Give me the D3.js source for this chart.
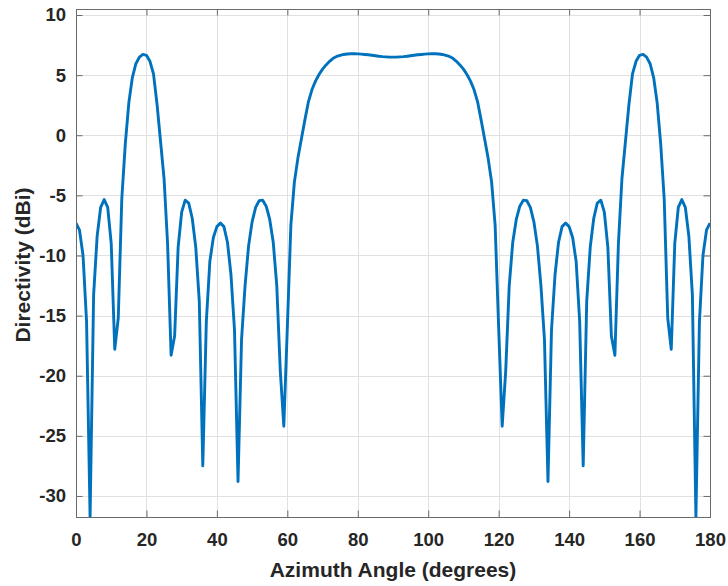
<!DOCTYPE html>
<html>
<head>
<meta charset="utf-8">
<script src="https://cdn.jsdelivr.net/npm/d3@7"></script>
<style>
  body { margin: 0; background: #ffffff; }
  text { font-family: "Liberation Sans", Arial, Helvetica, sans-serif; }
</style>
</head>
<body>
<svg id="chart" width="728" height="586"></svg>
<script>
// Azimuth sampling grid (degrees, 1-degree steps)
const azimuth = d3.range(0, 181, 1);

// Directivity in dBi at each azimuth angle
const directivity = [
  -7.3, -7.9, -10.0, -15.5, -31.75, -13.3, -8.4, -6.0, -5.35, -6.0,
  -9.0, -17.8, -15.2, -5.3, -0.7, 2.7, 4.8, 5.95, 6.5, 6.72,
  6.65, 6.15, 5.1, 2.6, -0.5, -3.6, -9.0, -18.3, -16.7, -9.3,
  -6.4, -5.4, -5.65, -6.9, -9.3, -13.8, -27.5, -15.5, -10.5, -8.5,
  -7.6, -7.3, -7.6, -8.9, -11.6, -16.2, -28.8, -17.0, -12.5, -9.2,
  -7.2, -6.0, -5.45, -5.4, -5.9, -7.0, -8.9, -12.5, -19.6, -24.2,
  -16.0, -7.5, -3.9, -1.9, -0.3, 1.3, 2.8, 3.8, 4.5, 5.05,
  5.5, 5.85, 6.15, 6.4, 6.55, 6.65, 6.72, 6.76, 6.78, 6.78,
  6.77, 6.75, 6.72, 6.69, 6.65, 6.61, 6.57, 6.54, 6.52, 6.5,
  6.5, 6.5, 6.52, 6.54, 6.57, 6.61, 6.65, 6.69, 6.72, 6.75,
  6.77, 6.78, 6.78, 6.76, 6.72, 6.65, 6.55, 6.4, 6.15, 5.85,
  5.5, 5.05, 4.5, 3.8, 2.8, 1.3, -0.3, -1.9, -3.9, -7.5,
  -16.0, -24.2, -19.6, -12.5, -8.9, -7.0, -5.9, -5.4, -5.45, -6.0,
  -7.2, -9.2, -12.5, -17.0, -28.8, -16.2, -11.6, -8.9, -7.6, -7.3,
  -7.6, -8.5, -10.5, -15.5, -27.5, -13.8, -9.3, -6.9, -5.65, -5.4,
  -6.4, -9.3, -16.7, -18.3, -9.0, -3.6, -0.5, 2.6, 5.1, 6.15,
  6.65, 6.72, 6.5, 5.95, 4.8, 2.7, -0.7, -5.3, -15.2, -17.8,
  -9.0, -6.0, -5.35, -6.0, -8.4, -13.3, -31.75, -15.5, -10.0, -7.9,
  -7.3
];

const xTicks = [0, 20, 40, 60, 80, 100, 120, 140, 160, 180];
const yTicks = [-30, -25, -20, -15, -10, -5, 0, 5, 10];
const xTitle = "Azimuth Angle (degrees)";
const yTitle = "Directivity (dBi)";

const svg = d3.select("#chart");
const plot = { left: 76, right: 710, top: 9, bottom: 517 };

const x = d3.scaleLinear().domain([0, 180]).range([plot.left, plot.right]);
const y = d3.scaleLinear().domain([-31.75, 10.5]).range([plot.bottom, plot.top]);

const series = azimuth.map((a, i) => ({ a, d: directivity[i] }));

// grid
const grid = svg.append("g").attr("stroke", "#e1e1e1").attr("stroke-width", 1);
grid.selectAll("line.gx").data(xTicks).join("line")
  .attr("x1", d => Math.round(x(d)) + 0.5).attr("x2", d => Math.round(x(d)) + 0.5)
  .attr("y1", plot.top).attr("y2", plot.bottom);
grid.selectAll("line.gy").data(yTicks).join("line")
  .attr("y1", d => Math.round(y(d)) + 0.5).attr("y2", d => Math.round(y(d)) + 0.5)
  .attr("x1", plot.left).attr("x2", plot.right);

// clip to the axes box
svg.append("clipPath").attr("id", "plotclip").append("rect")
  .attr("x", plot.left).attr("y", plot.top)
  .attr("width", plot.right - plot.left).attr("height", plot.bottom - plot.top);

// pattern curve
const line = d3.line().x(p => x(p.a)).y(p => y(p.d));
svg.append("path")
  .datum(series)
  .attr("clip-path", "url(#plotclip)")
  .attr("fill", "none")
  .attr("stroke", "#0072BD")
  .attr("stroke-width", 2.9)
  .attr("stroke-linejoin", "round")
  .attr("d", line);

// axes with inward ticks
const tickLen = 6.5;
const axisColor = "#6a6a6a";
const labelColor = "#262626";
const plainNumber = d => String(d);

function styleAxis(g, showLabels) {
  g.select(".domain").remove();
  g.selectAll(".tick line").attr("stroke", axisColor).attr("stroke-width", 1);
  g.selectAll(".tick text")
    .attr("fill", labelColor)
    .style("font-size", "18.5px")
    .style("font-weight", "bold")
    .style("display", showLabels ? null : "none");
}

svg.append("g")
  .attr("transform", `translate(0,${plot.bottom})`)
  .call(d3.axisBottom(x).tickValues(xTicks).tickFormat(plainNumber)
    .tickSize(-tickLen).tickPadding(16))
  .call(g => styleAxis(g, true));

svg.append("g")
  .attr("transform", `translate(0,${plot.top})`)
  .call(d3.axisTop(x).tickValues(xTicks).tickSize(-tickLen))
  .call(g => styleAxis(g, false));

svg.append("g")
  .attr("transform", `translate(${plot.left},0)`)
  .call(d3.axisLeft(y).tickValues(yTicks).tickFormat(plainNumber)
    .tickSize(-tickLen).tickPadding(10))
  .call(g => styleAxis(g, true));

svg.append("g")
  .attr("transform", `translate(${plot.right},0)`)
  .call(d3.axisRight(y).tickValues(yTicks).tickSize(-tickLen))
  .call(g => styleAxis(g, false));

// axes box
svg.append("rect")
  .attr("x", plot.left + 0.5).attr("y", plot.top + 0.5)
  .attr("width", plot.right - plot.left).attr("height", plot.bottom - plot.top)
  .attr("fill", "none").attr("stroke", axisColor).attr("stroke-width", 1);

// axis titles
svg.append("text")
  .attr("x", (plot.left + plot.right) / 2)
  .attr("y", 577)
  .attr("text-anchor", "middle")
  .attr("fill", labelColor)
  .style("font-size", "21px").style("font-weight", "bold")
  .text(xTitle);

svg.append("text")
  .attr("transform", `translate(30,${(plot.top + plot.bottom) / 2 + 2}) rotate(-90)`)
  .attr("text-anchor", "middle")
  .attr("fill", labelColor)
  .style("font-size", "21px").style("font-weight", "bold")
  .text(yTitle);
</script>
</body>
</html>
